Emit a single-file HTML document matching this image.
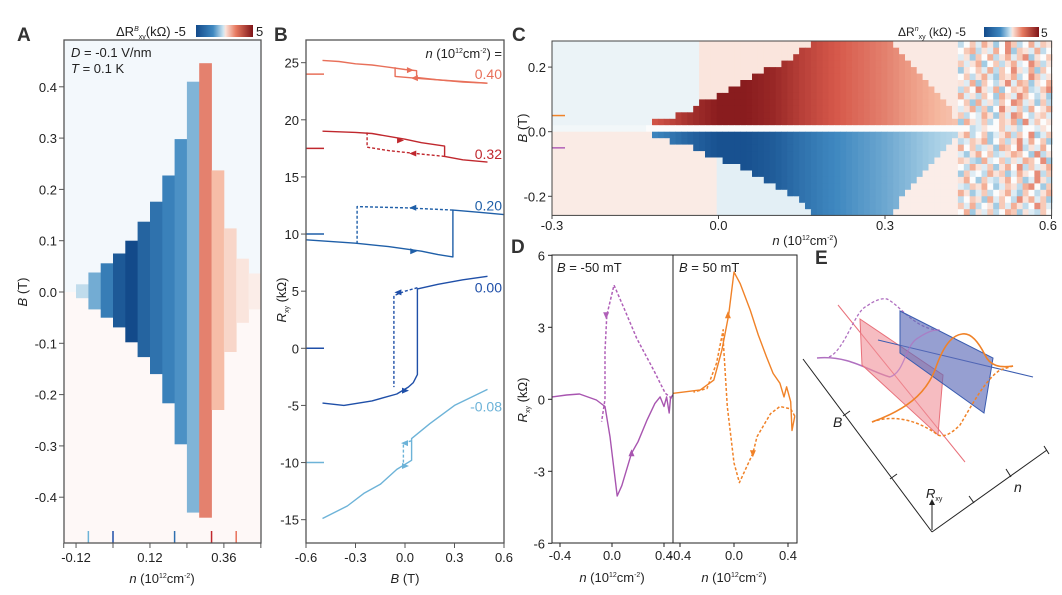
<!DOCTYPE html>
<html><head><meta charset="utf-8"><style>
html,body{margin:0;padding:0;background:#fff}
svg{display:block;font-family:"Liberation Sans",sans-serif}
.pl{font-weight:bold;font-size:19px}
</style></head><body>
<svg id="fig" width="1062" height="595" viewBox="0 0 1062 595" xmlns="http://www.w3.org/2000/svg" fill="#222">
<defs>
<linearGradient id="cbar" x1="0" x2="1" y1="0" y2="0">
<stop offset="0" stop-color="#134a8a"/><stop offset="0.3" stop-color="#3f88c0"/><stop offset="0.48" stop-color="#cfe6f1"/><stop offset="0.52" stop-color="#fbe3da"/><stop offset="0.7" stop-color="#e77a60"/><stop offset="1" stop-color="#7f1418"/>
</linearGradient>
</defs>
<text class="pl" x="17" y="41" fill="#333">A</text>
<text class="pl" x="274" y="41" fill="#333">B</text>
<text class="pl" x="512" y="41" fill="#333">C</text>
<text class="pl" x="511" y="253" fill="#333">D</text>
<text class="pl" x="815" y="264" fill="#333">E</text>

<text x="116" y="36" font-size="13">ΔR<tspan font-size="7" dy="-5" font-style="italic">B</tspan><tspan font-size="7" dy="8">xy</tspan><tspan dy="-3">(kΩ) -5</tspan></text>
<rect x="196" y="25" width="57" height="12" fill="url(#cbar)"/>
<text x="256" y="36" font-size="13">5</text>
<text x="898" y="36" font-size="12">ΔR<tspan font-size="7" dy="-5" font-style="italic">n</tspan><tspan font-size="7" dy="8">xy</tspan><tspan dy="-3"> (kΩ) -5</tspan></text>
<rect x="984" y="27" width="55" height="10" fill="url(#cbar)"/>
<text x="1041" y="37" font-size="12">5</text>

<g id="gA"></g>
<g id="gB"></g>
<g id="gC"></g>
<g id="gD"></g>

<g id="gE" fill="none">
<line x1="838" y1="305" x2="965" y2="462" stroke="#e8707a" stroke-width="1"/>
<path d="M817,358 C850,355 870,372 890,377" stroke="#b070c0" stroke-width="1.5"/>
<path d="M829,357 C845,350 855,310 867,306 C875,300 882,298 887,299 C900,305 915,330 940,330" stroke="#b070c0" stroke-width="1.3" stroke-dasharray="3,2"/>
<polygon points="860,319 943,375 938,435 862,365" fill="#f08f98" fill-opacity="0.6" stroke="#e8707a" stroke-width="1"/>
<line x1="878" y1="340" x2="1033" y2="377" stroke="#3a5cb0" stroke-width="1"/>
<polygon points="900,311 993,358 984,413 900,353" fill="#5e6cb8" fill-opacity="0.65" stroke="#3a5cb0" stroke-width="1"/>
<path d="M890,377 C905,372 905,345 918,338 C930,330 935,330 940,330" stroke="#b070c0" stroke-width="1.3" opacity="0.7"/>
<path d="M872,422 C905,410 925,395 935,370 C945,340 955,335 962,334 C972,332 980,345 985,355 C990,366 1000,368 1013,366" stroke="#f08228" stroke-width="1.6"/>
<path d="M872,422 C890,415 915,418 938,435 C945,438 953,432 960,425 C972,405 985,380 1000,370 L1013,366" stroke="#f08228" stroke-width="1.5" stroke-dasharray="3,2"/>
<line x1="803" y1="359" x2="932" y2="532" stroke="#222" stroke-width="1"/>
<line x1="932" y1="532" x2="1047" y2="450" stroke="#222" stroke-width="1"/>
<line x1="843" y1="416" x2="850" y2="411" stroke="#222"/>
<line x1="890" y1="479" x2="897" y2="474" stroke="#222"/>
<line x1="969" y1="496" x2="974" y2="503" stroke="#222"/>
<line x1="1006" y1="469" x2="1011" y2="477" stroke="#222"/>
<line x1="1044" y1="446" x2="1049" y2="454" stroke="#222"/>
<line x1="932" y1="530" x2="932" y2="503" stroke="#222" stroke-width="1"/>
<polygon points="929,505 932,499 935,505" fill="#222"/>
<text x="833" y="427" font-size="14" font-style="italic" fill="#222">B</text>
<text x="1014" y="492" font-size="14" font-style="italic" fill="#222">n</text>
<text x="926" y="498" font-size="13" font-style="italic" fill="#222">R<tspan font-size="7" font-style="normal" dy="3">xy</tspan></text>
</g>
</svg>
<script>
const NS='http://www.w3.org/2000/svg';
function mk(tag,attrs,parent){const e=document.createElementNS(NS,tag);for(const k in attrs)e.setAttribute(k,attrs[k]);parent.appendChild(e);return e;}
const cmapV=[-5,-3.3,-1.7,0,1.7,3.3,5];
const cmapC=[[19,74,138],[63,136,192],[167,207,229],[252,252,252],[245,181,156],[214,88,74],[127,20,24]];
function cmap(v){v=Math.max(-5,Math.min(5,v));let i=0;while(i<cmapV.length-2&&v>cmapV[i+1])i++;const t=(v-cmapV[i])/(cmapV[i+1]-cmapV[i]);const a=cmapC[i],b=cmapC[i+1];return 'rgb('+a.map((x,k)=>Math.round(x+(b[k]-x)*t)).join(',')+')';}

/* ---------- Panel A data ---------- */
const aColN=[-0.12,-0.08,-0.04,0,0.04,0.08,0.12,0.16,0.20,0.24,0.28,0.32,0.36,0.40,0.44];
const aColTop=[0.015,0.038,0.056,0.075,0.10,0.137,0.176,0.227,0.298,0.41,0.446,0.237,0.124,0.065,0.036];
const aColBot=[-0.012,-0.034,-0.05,-0.069,-0.098,-0.127,-0.16,-0.217,-0.297,-0.43,-0.44,-0.23,-0.117,-0.06,-0.034];
const aColVal=[-1.2,-2.5,-3.6,-4.6,-5,-4.3,-3.9,-3.5,-3.1,-2.3,2.6,1.5,0.9,0.55,0.35];
const aYTicks=[0.4,0.3,0.2,0.1,0.0,-0.1,-0.2,-0.3,-0.4];
const aXTickLabels=[-0.12,0.12,0.36];
const aXTicks=[-0.16,-0.12,0,0.12,0.24,0.36,0.48];
const aMarkN=[-0.08,0,0.2,0.32,0.40];
const aMarkColor=['#6db3d8','#1f4fa8','#2f6fb0','#c0282e','#e8705a'];
const xA=n=>113+308*n, yA=b=>292-513*b;

/* ---------- Panel B data ---------- */
const bSeriesLabels=['0.40','0.32','0.20','0.00','-0.08'];
const bColors=['#e8705a','#c0282e','#1f5fa8','#1f4fa8','#6db3d8'];
const bOffsets=[24,17.5,10,0,-10];
const bLabelY=[24.0,17.0,12.5,5.3,-5.1];
const bUp040=[[-0.5,25.2],[-0.4,25.1],[-0.3,24.9],[-0.2,24.8],[-0.1,24.6],[0.0,24.4],[0.07,24.3],[0.07,23.7],[0.2,23.5],[0.35,23.3],[0.5,23.2]];
const bDn040=[[0.5,23.2],[0.3,23.4],[0.1,23.6],[-0.06,23.8],[-0.06,24.6]];
const bUp032=[[-0.5,19.0],[-0.3,18.9],[-0.2,18.8],[0,18.3],[0.1,18.0],[0.24,17.7],[0.24,16.8],[0.35,16.5],[0.5,16.3]];
const bDn032=[[0.24,16.8],[0.1,17.0],[-0.1,17.3],[-0.23,17.6],[-0.23,18.9]];
const bUp020=[[-0.6,9.5],[-0.5,9.4],[-0.3,9.2],[-0.1,8.9],[0.1,8.5],[0.2,8.2],[0.29,8.0],[0.29,12.1],[0.45,11.9],[0.6,11.7]];
const bDn020=[[0.29,12.1],[0.0,12.3],[-0.29,12.4],[-0.29,9.2]];
const bUp000=[[-0.5,-4.8],[-0.37,-5.0],[-0.2,-4.6],[-0.05,-4.0],[0.02,-3.4],[0.05,-3.0],[0.075,-2.3],[0.075,5.2],[0.2,5.6],[0.35,6.0],[0.5,6.3]];
const bDn000=[[0.075,5.3],[0.0,5.0],[-0.067,4.6],[-0.067,-3.4]];
const bUpm08=[[-0.5,-14.9],[-0.35,-13.8],[-0.25,-12.7],[-0.15,-11.9],[-0.05,-10.6],[0.04,-9.8],[0.04,-7.9],[0.15,-6.6],[0.3,-5.0],[0.5,-3.6]];
const bDnm08=[[0.04,-8.1],[-0.01,-8.3],[-0.01,-10.2]];
const bYTicks=[25,20,15,10,5,0,-5,-10,-15];
const bXTicks=[-0.6,-0.3,0.0,0.3,0.6];
const xB=b=>405+165*b, yB=r=>348.3-11.425*r;

/* ---------- Panel C data ---------- */
const cRowB=[0.27,0.25,0.23,0.21,0.19,0.17,0.15,0.13,0.11,0.09,0.07,0.05,0.03,0.01,-0.01,-0.03,-0.05,-0.07,-0.09,-0.11,-0.13,-0.15,-0.17,-0.19,-0.21,-0.23,-0.25];
const cLeft=[0.17,0.15,0.13,0.11,0.08,0.06,0.04,0.02,0.0,-0.03,-0.05,-0.08,-0.12,null,-0.12,-0.09,-0.05,-0.02,0.01,0.04,0.06,0.08,0.10,0.12,0.14,0.16,0.17];
const cRight=[0.32,0.33,0.34,0.35,0.36,0.37,0.38,0.39,0.40,0.41,0.42,0.42,0.43,null,0.43,0.42,0.41,0.40,0.39,0.38,0.37,0.36,0.35,0.34,0.33,0.33,0.32];
const cMagNodes=[-0.15,-0.1,-0.05,0,0.05,0.1,0.15,0.2,0.25,0.3,0.35,0.4,0.45];
const cMag=[3.0,3.6,4.3,4.8,4.8,4.5,3.9,3.4,3.0,2.6,2.1,1.6,1.2];
const cNoise=["cegdhfbeigcehdgf","eghcfdheibgfdhce","dfbgehcfhdgibfeg","gdfhbegcfhdeigcf","bfegdhcgeifdhbge","egcfhdbgfhceigdf","fdhbgecfidhgbfeh","cgeifdhbegfhcdgi","hdfcgebhfdigecfb","egbhdfcgeihdfbgc","dfhcgbeifdgchefh","gcedhfbgdihecfgd","bhfdgcegfhbidgef","eecdfeegdfceedfe","fhcegbdfhcgeibdg","cdgfhbegcfidhegb","hegcdfbhgeicfdhe","dbfhegcdfhgebicf","gfcbhdegcfdhgeib","echfdgbfheicgdfh","bgdechfgbdhfeicg","fhebgdcfhegbdifc","dcgfhebdgfchiebg","hfbdgcefhdbgecfh","cegfbhdgecifhdgb","gdhcefbgdhfceigd","ehbfdgcehgbfdcge"];
const cYTicks=[0.2,0.0,-0.2];
const cXTicks=[-0.3,0.0,0.3,0.6];
const cMarkB=[0.05,-0.05];
const cMarkColor=['#f08228','#b060b8'];
const xC=n=>718.5+555*n, yC=b=>131.7-323*b;

/* ---------- Panel D data ---------- */
const dPurpleSolid=[[-0.46,0.1],[-0.35,0.18],[-0.25,0.22],[-0.12,-0.03],[-0.054,-0.3],[-0.015,-1.56],[0.04,-4.03],[0.075,-3.6],[0.15,-2.25],[0.2,-1.77],[0.27,-0.86],[0.33,-0.17],[0.37,0.1],[0.4,-0.3],[0.42,0.1],[0.44,-0.57],[0.45,0.05],[0.47,0.2]];
const dPurpleDash=[[0.46,0.04],[0.41,0.25],[0.32,1.22],[0.19,2.54],[0.1,3.7],[0.015,4.76],[-0.04,3.5],[-0.054,2.0],[-0.054,0.0],[-0.08,-0.93]];
const dOrangeSolid=[[-0.45,0.25],[-0.25,0.39],[-0.15,0.8],[-0.09,2.05],[-0.04,3.5],[0.0,5.3],[0.045,4.83],[0.12,3.72],[0.18,2.68],[0.24,1.78],[0.29,1.08],[0.34,0.67],[0.37,0.1],[0.39,0.52],[0.42,-0.1],[0.43,-1.3],[0.45,-0.7]];
const dOrangeDash=[[0.45,-0.7],[0.42,-0.4],[0.34,-0.3],[0.27,-0.6],[0.17,-1.56],[0.14,-2.25],[0.04,-3.47],[0.0,-2.65],[-0.05,-0.3],[-0.08,2.47],[-0.08,2.9],[-0.13,1.5],[-0.2,0.45],[-0.3,0.3]];
const dYTicks=[6,3,0,-3,-6];
const dXTicks=[-0.4,0.0,0.4];
const xD1=n=>612+130*n, xD2=n=>734+135*n, yD=v=>399.3-24*v;

const gA=document.getElementById('gA'),gB=document.getElementById('gB'),gC=document.getElementById('gC'),gD=document.getElementById('gD');
function poly(pts,fx,fy,color,dash,parent,w){return mk('polyline',{points:pts.map(q=>fx(q[0]).toFixed(1)+','+fy(q[1]).toFixed(1)).join(' '),fill:'none',stroke:color,'stroke-width':w||1.5,'stroke-dasharray':dash?'3,2':'none','stroke-linejoin':'round'},parent);}
function txt(x,y,s,parent,anchor,size,color){const t=mk('text',{x:x,y:y,'font-size':size||13,'text-anchor':anchor||'middle',fill:color||'#222'},parent);t.textContent=s;return t;}
function arrow(x,y,dir,color,parent){let pts;if(dir==='r')pts=[[x+4,y],[x-3,y-3],[x-3,y+3]];else if(dir==='l')pts=[[x-4,y],[x+3,y-3],[x+3,y+3]];else if(dir==='u')pts=[[x,y-4],[x-3,y+3],[x+3,y+3]];else pts=[[x,y+4],[x-3,y-3],[x+3,y-3]];return mk('polygon',{points:pts.map(p=>p.join(',')).join(' '),fill:color},parent);}
const NTITLE='<tspan font-style="italic">n</tspan> (10<tspan font-size="7" dy="-5">12</tspan><tspan dy="5">cm</tspan><tspan font-size="7" dy="-5">-2</tspan><tspan dy="5">)</tspan>';

/* ===== Panel A ===== */
let e;
e=mk('rect',{x:64,y:40,width:197,height:252,fill:'#f3f8fc'},gA);


e=mk('rect',{x:64,y:292,width:197,height:251,fill:'#fef8f7'},gA);


aColN.forEach((n,i)=>{
  const r=mk('rect',{x:xA(n).toFixed(1),y:yA(aColTop[i]).toFixed(1),width:(308*0.04+0.4).toFixed(1),height:(yA(aColBot[i])-yA(aColTop[i])).toFixed(1),fill:cmap(aColVal[i])},gA);
  
  
});
aMarkN.forEach((n,i)=>{
  const l=mk('line',{x1:xA(n),x2:xA(n),y1:531,y2:543,stroke:aMarkColor[i],'stroke-width':1.5},gA);
  
  
});
e=mk('rect',{x:64,y:40,width:197,height:503,fill:'none',stroke:'#555','stroke-width':1.3},gA);


aYTicks.forEach(v=>{
  const l=mk('line',{x1:59,x2:64,y1:yA(v),y2:yA(v),stroke:'#555'},gA);
  
  
  const t=txt(57,yA(v)+5,v.toFixed(1),gA,'end');
  
  
});
aXTicks.forEach(v=>{
  const l=mk('line',{x1:xA(v),x2:xA(v),y1:543,y2:548,stroke:'#555'},gA);
  
  
});
aXTickLabels.forEach(v=>{
  const t=txt(xA(v),562,v.toFixed(2),gA);
  
  
});
e=mk('text',{x:162,y:583,'font-size':13,'text-anchor':'middle'},gA);
e.innerHTML=NTITLE;


e=mk('text',{x:0,y:0,'font-size':13,'text-anchor':'middle',transform:'translate(27,292) rotate(-90)'},gA);
e.innerHTML='<tspan font-style="italic">B</tspan> (T)';


e=mk('text',{x:71,y:57,'font-size':13},gA);
e.innerHTML='<tspan font-style="italic">D</tspan> = -0.1 V/nm';


e=mk('text',{x:71,y:73,'font-size':13},gA);
e.innerHTML='<tspan font-style="italic">T</tspan> = 0.1 K';



/* ===== Panel B ===== */
const bUps=[bUp040,bUp032,bUp020,bUp000,bUpm08];
const bDns=[bDn040,bDn032,bDn020,bDn000,bDnm08];
const bDnDashed=[false,true,true,true,true];
bUps.forEach((s,i)=>{
  const p=poly(s,xB,yB,bColors[i],false,gB,1.4);
  
  
  const q=poly(bDns[i],xB,yB,bColors[i],bDnDashed[i],gB,1.4);
  
  
  const m=mk('line',{x1:306,x2:324,y1:yB(bOffsets[i]),y2:yB(bOffsets[i]),stroke:bColors[i],'stroke-width':1.5},gB);
  
  
  const t=txt(502,yB(bLabelY[i])+5,bSeriesLabels[i],gB,'end',14,bColors[i]);
  
  
});
const bArrows=[[0.03,24.35,'r',0],[0.06,23.65,'l',0],[-0.03,18.2,'r',1],[0.05,17.05,'l',1],[0.05,8.5,'r',2],[0.05,12.3,'l',2],[0.0,-3.7,'r',3],[-0.04,4.9,'l',3],[0.0,-10.3,'r',4],[0.0,-8.3,'l',4]];
bArrows.forEach(a=>{
  const ar=arrow(xB(a[0]),yB(a[1]),a[2],bColors[a[3]],gB);
  
  
});
e=mk('rect',{x:306,y:40,width:198,height:503,fill:'none',stroke:'#555','stroke-width':1.3},gB);


bYTicks.forEach(v=>{
  const l=mk('line',{x1:301,x2:306,y1:yB(v),y2:yB(v),stroke:'#555'},gB);
  
  
  const t=txt(299,yB(v)+5,String(v),gB,'end');
  
  
});
bXTicks.forEach(v=>{
  const l=mk('line',{x1:xB(v),x2:xB(v),y1:543,y2:548,stroke:'#555'},gB);
  
  
  const t=txt(xB(v),562,v.toFixed(1),gB);
  
  
});
e=mk('text',{x:405,y:583,'font-size':13,'text-anchor':'middle'},gB);
e.innerHTML='<tspan font-style="italic">B</tspan> (T)';


e=mk('text',{x:0,y:0,'font-size':13,'text-anchor':'middle',transform:'translate(286,300) rotate(-90)'},gB);
e.innerHTML='<tspan font-style="italic">R</tspan><tspan font-size="7" dy="3">xy</tspan><tspan dy="-3"> (kΩ)</tspan>';


e=mk('text',{x:502,y:58,'font-size':13,'text-anchor':'end'},gB);
e.innerHTML='<tspan font-style="italic">n</tspan> (10<tspan font-size="7" dy="-5">12</tspan><tspan dy="5">cm</tspan><tspan font-size="7" dy="-5">-2</tspan><tspan dy="5">) =</tspan>';



/* ===== Panel C ===== */
function magAt(n){if(n<=cMagNodes[0])return cMag[0];for(let i=0;i<cMagNodes.length-1;i++){if(n<=cMagNodes[i+1]){const t=(n-cMagNodes[i])/(cMagNodes[i+1]-cMagNodes[i]);return cMag[i]+(cMag[i+1]-cMag[i])*t;}}return cMag[cMag.length-1];}
const dn=0.0106, nStart=-0.3, nNoise=0.43;
cRowB.forEach((b,ri)=>{
  const y0=yC(b+0.01), y1=yC(b-0.01);
  const top=Math.max(41,y0), bot=Math.min(215.4,y1);
  const upper=b>0.015, gap=Math.abs(b-0.01)<0.001;
  for(let n=nStart;n<0.6-1e-9;n+=dn){
    const nc=n+dn/2;let v;
    if(nc>=nNoise){const row=cNoise[ri];const ci=Math.min(15,Math.floor((nc-nNoise)/((0.6-nNoise)/16)));v=(row.charCodeAt(ci)-101)*0.6;}
    else if(gap){v=nc>-0.13?0:(nc<-0.02?-0.2:0.2);}
    else{const L=cLeft[ri],R=cRight[ri];
      if(nc>=L&&nc<=R){v=(upper?1:-1)*magAt(nc);}
      else if(upper){v=nc<-0.03?-0.35:(nc<L?0.55:0.45);}
      else{v=nc<0.0?0.4:(nc<L?-0.5:0.35);}
    }
    const c=mk('rect',{x:xC(n).toFixed(1),y:top.toFixed(1),width:(555*dn+0.4).toFixed(1),height:(bot-top+0.4).toFixed(1),fill:cmap(v)},gC);
    
    
  }
});
cMarkB.forEach((b,i)=>{
  const l=mk('line',{x1:552,x2:565,y1:yC(b),y2:yC(b),stroke:cMarkColor[i],'stroke-width':1.5},gC);
  
  
});
e=mk('rect',{x:552,y:41,width:499.6,height:174.4,fill:'none',stroke:'#444','stroke-width':1},gC);


cYTicks.forEach(v=>{
  const l=mk('line',{x1:548,x2:552,y1:yC(v),y2:yC(v),stroke:'#444'},gC);
  
  
  const t=txt(546,yC(v)+5,v.toFixed(1),gC,'end');
  
  
});
cXTicks.forEach(v=>{
  const l=mk('line',{x1:xC(v),x2:xC(v),y1:215.4,y2:219,stroke:'#444'},gC);
  
  
  const t=txt(Math.min(xC(v),1048),230,v.toFixed(1),gC);
  
  
});
e=mk('text',{x:805,y:245,'font-size':13,'text-anchor':'middle'},gC);
e.innerHTML=NTITLE;


e=mk('text',{x:0,y:0,'font-size':13,'text-anchor':'middle',transform:'translate(527,128) rotate(-90)'},gC);
e.innerHTML='<tspan font-style="italic">B</tspan> (T)';



/* ===== Panel D ===== */
e=poly(dPurpleDash,xD1,yD,'#b060b8',true,gD,1.5);


e=poly(dPurpleSolid,xD1,yD,'#a855b0',false,gD,1.4);


e=poly(dOrangeDash,xD2,yD,'#f08228',true,gD,1.5);


e=poly(dOrangeSolid,xD2,yD,'#f08228',false,gD,1.4);


const dArrows=[[xD1(-0.045),yD(3.5),'d','#b060b8'],[xD1(0.15),yD(-2.25),'u','#a855b0'],[xD2(-0.045),yD(3.5),'u','#f08228'],[xD2(0.14),yD(-2.25),'d','#f08228']];
dArrows.forEach(a=>{
  const ar=arrow(a[0],a[1],a[2],a[3],gD);
  
  
});
e=mk('rect',{x:552,y:255,width:245,height:288,fill:'none',stroke:'#222','stroke-width':1},gD);


e=mk('line',{x1:673,x2:673,y1:255,y2:543,stroke:'#222','stroke-width':1},gD);


dYTicks.forEach(v=>{
  const l=mk('line',{x1:548,x2:552,y1:yD(v),y2:yD(v),stroke:'#222'},gD);
  
  
  const t=txt(545,yD(v)+5,String(v),gD,'end');
  
  
});
dXTicks.forEach(v=>{
  [xD1,xD2].forEach(fx=>{
    const l=mk('line',{x1:fx(v),x2:fx(v),y1:543,y2:547,stroke:'#222'},gD);
    
    
    const t=txt(fx(v),560,v.toFixed(1),gD);
    
    
  });
});
[[612,'left'],[734,'right']].forEach(c=>{
  const t=mk('text',{x:c[0],y:582,'font-size':13,'text-anchor':'middle'},gD);
  t.innerHTML=NTITLE;
  
  
});
e=mk('text',{x:0,y:0,'font-size':13,'text-anchor':'middle',transform:'translate(527,400) rotate(-90)'},gD);
e.innerHTML='<tspan font-style="italic">R</tspan><tspan font-size="7" dy="3">xy</tspan><tspan dy="-3"> (kΩ)</tspan>';


e=mk('text',{x:557,y:272,'font-size':13},gD);
e.innerHTML='<tspan font-style="italic">B</tspan> = -50 mT';


e=mk('text',{x:679,y:272,'font-size':13},gD);
e.innerHTML='<tspan font-style="italic">B</tspan> = 50 mT';


</script>
</body></html>
